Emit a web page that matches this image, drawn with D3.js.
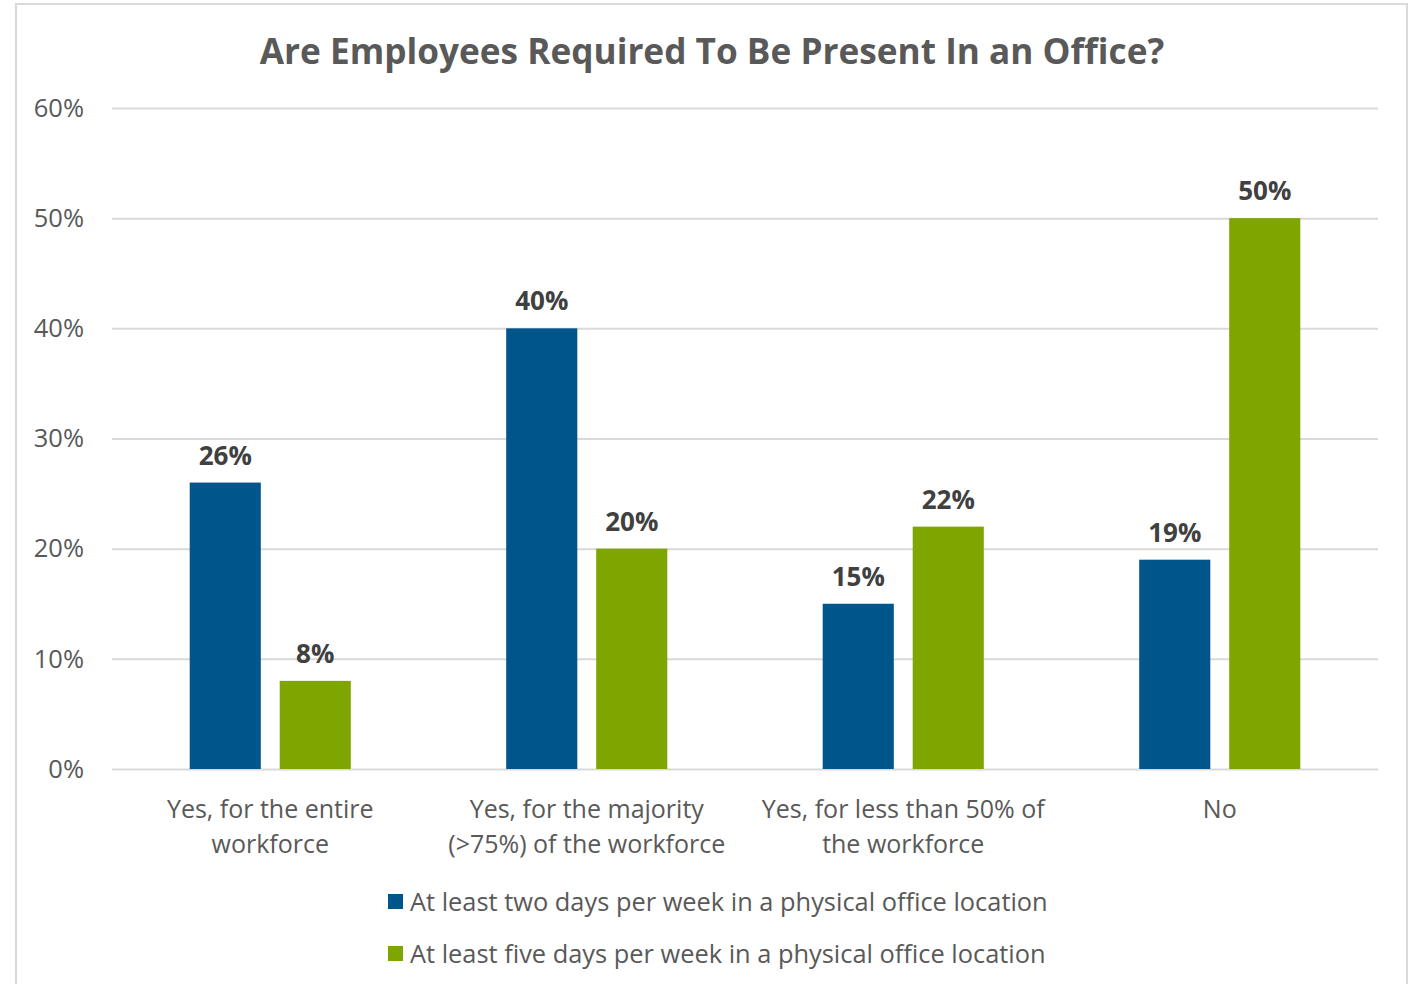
<!DOCTYPE html>
<html>
<head>
<meta charset="utf-8">
<script src="https://cdn.jsdelivr.net/npm/d3@7"></script>
<style>
  html, body { margin: 0; padding: 0; background: #ffffff; }
  svg { display: block; }
  text { font-family: "Open Sans", "Noto Sans", sans-serif; }
</style>
</head>
<body>
<svg id="chart" width="1417" height="984"></svg>
<script>
// Survey responses, share of organisations
const categories = [
  ["Yes, for the entire", "workforce"],
  ["Yes, for the majority", "(>75%) of the workforce"],
  ["Yes, for less than 50% of", "the workforce"],
  ["No"]
];
const seriesNames = [
  "At least two days per week in a physical office location",
  "At least five days per week in a physical office location"
];
const twoDays = [26, 40, 15, 19];
const fiveDays = [8, 20, 22, 50];
const yTicks = [0, 10, 20, 30, 40, 50, 60];
const colors = ["#00568b", "#7fa500"];
const title = "Are Employees Required To Be Present In an Office?";

const svg = d3.select("#chart");
const plot = { left: 112, right: 1378, top: 108, bottom: 769 };

// outer frame
svg.append("rect")
  .attr("x", 16).attr("y", 4)
  .attr("width", 1391).attr("height", 1000)
  .attr("fill", "#ffffff")
  .attr("stroke", "#d9d9d9").attr("stroke-width", 2);

svg.append("text")
  .attr("x", 712).attr("y", 64)
  .attr("text-anchor", "middle")
  .attr("font-size", 35.2).attr("font-weight", 700)
  .attr("fill", "#595959")
  .text(title);

const y = d3.scaleLinear().domain([0, 60]).range([plot.bottom, plot.top]);
const x0 = d3.scaleBand()
  .domain(d3.range(categories.length))
  .range([plot.left, plot.right])
  .paddingInner(0.491).paddingOuter(0.2455);
const x1 = d3.scaleBand()
  .domain([0, 1])
  .range([0, x0.bandwidth()])
  .paddingInner(0.21);

// gridlines and value axis
const yAxis = d3.axisLeft(y)
  .tickValues(yTicks)
  .tickSize(-(plot.right - plot.left))
  .tickPadding(28)
  .tickFormat(d => d + "%");
const gy = svg.append("g")
  .attr("transform", `translate(${plot.left},0)`)
  .call(yAxis);
gy.select(".domain").remove();
gy.selectAll(".tick line").attr("stroke", "#d9d9d9").attr("stroke-width", 2);
gy.selectAll(".tick text")
  .attr("fill", "#595959").attr("font-size", 25.5)
  .attr("font-family", "'Open Sans', sans-serif");

const data = categories.map((c, i) => [twoDays[i], fiveDays[i]]);

const groups = svg.append("g").selectAll("g")
  .data(data).join("g")
  .attr("transform", (d, i) => `translate(${x0(i)},0)`);

groups.selectAll("rect")
  .data(d => d.map((v, s) => ({ v, s })))
  .join("rect")
  .attr("x", d => x1(d.s))
  .attr("y", d => y(d.v))
  .attr("width", x1.bandwidth())
  .attr("height", d => y(0) - y(d.v))
  .attr("fill", d => colors[d.s]);

groups.selectAll("text.val")
  .data(d => d.map((v, s) => ({ v, s })))
  .join("text")
  .attr("class", "val")
  .attr("x", d => x1(d.s) + x1.bandwidth() / 2)
  .attr("y", d => y(d.v) - 18)
  .attr("text-anchor", "middle")
  .attr("font-size", 26).attr("font-weight", 700)
  .attr("fill", "#404040")
  .text(d => d.v + "%");

// category labels
const cat = svg.append("g").selectAll("text")
  .data(categories).join("text")
  .attr("x", (d, i) => x0(i) + x0.bandwidth() / 2)
  .attr("y", 818)
  .attr("text-anchor", "middle")
  .attr("font-size", 25)
  .attr("fill", "#595959");
cat.selectAll("tspan")
  .data(d => d).join("tspan")
  .attr("x", function () { return d3.select(this.parentNode).attr("x"); })
  .attr("dy", (d, i) => i === 0 ? 0 : 35)
  .text(d => d);

// legend
const legend = svg.append("g").selectAll("g")
  .data(seriesNames).join("g")
  .attr("transform", (d, i) => `translate(388,${902 + i * 52})`);
legend.append("rect")
  .attr("x", 0).attr("y", -8)
  .attr("width", 15).attr("height", 15)
  .attr("fill", (d, i) => colors[i]);
legend.append("text")
  .attr("x", 22).attr("y", 9)
  .attr("font-size", 25.4).attr("fill", "#595959")
  .text(d => d);
</script>
</body>
</html>
